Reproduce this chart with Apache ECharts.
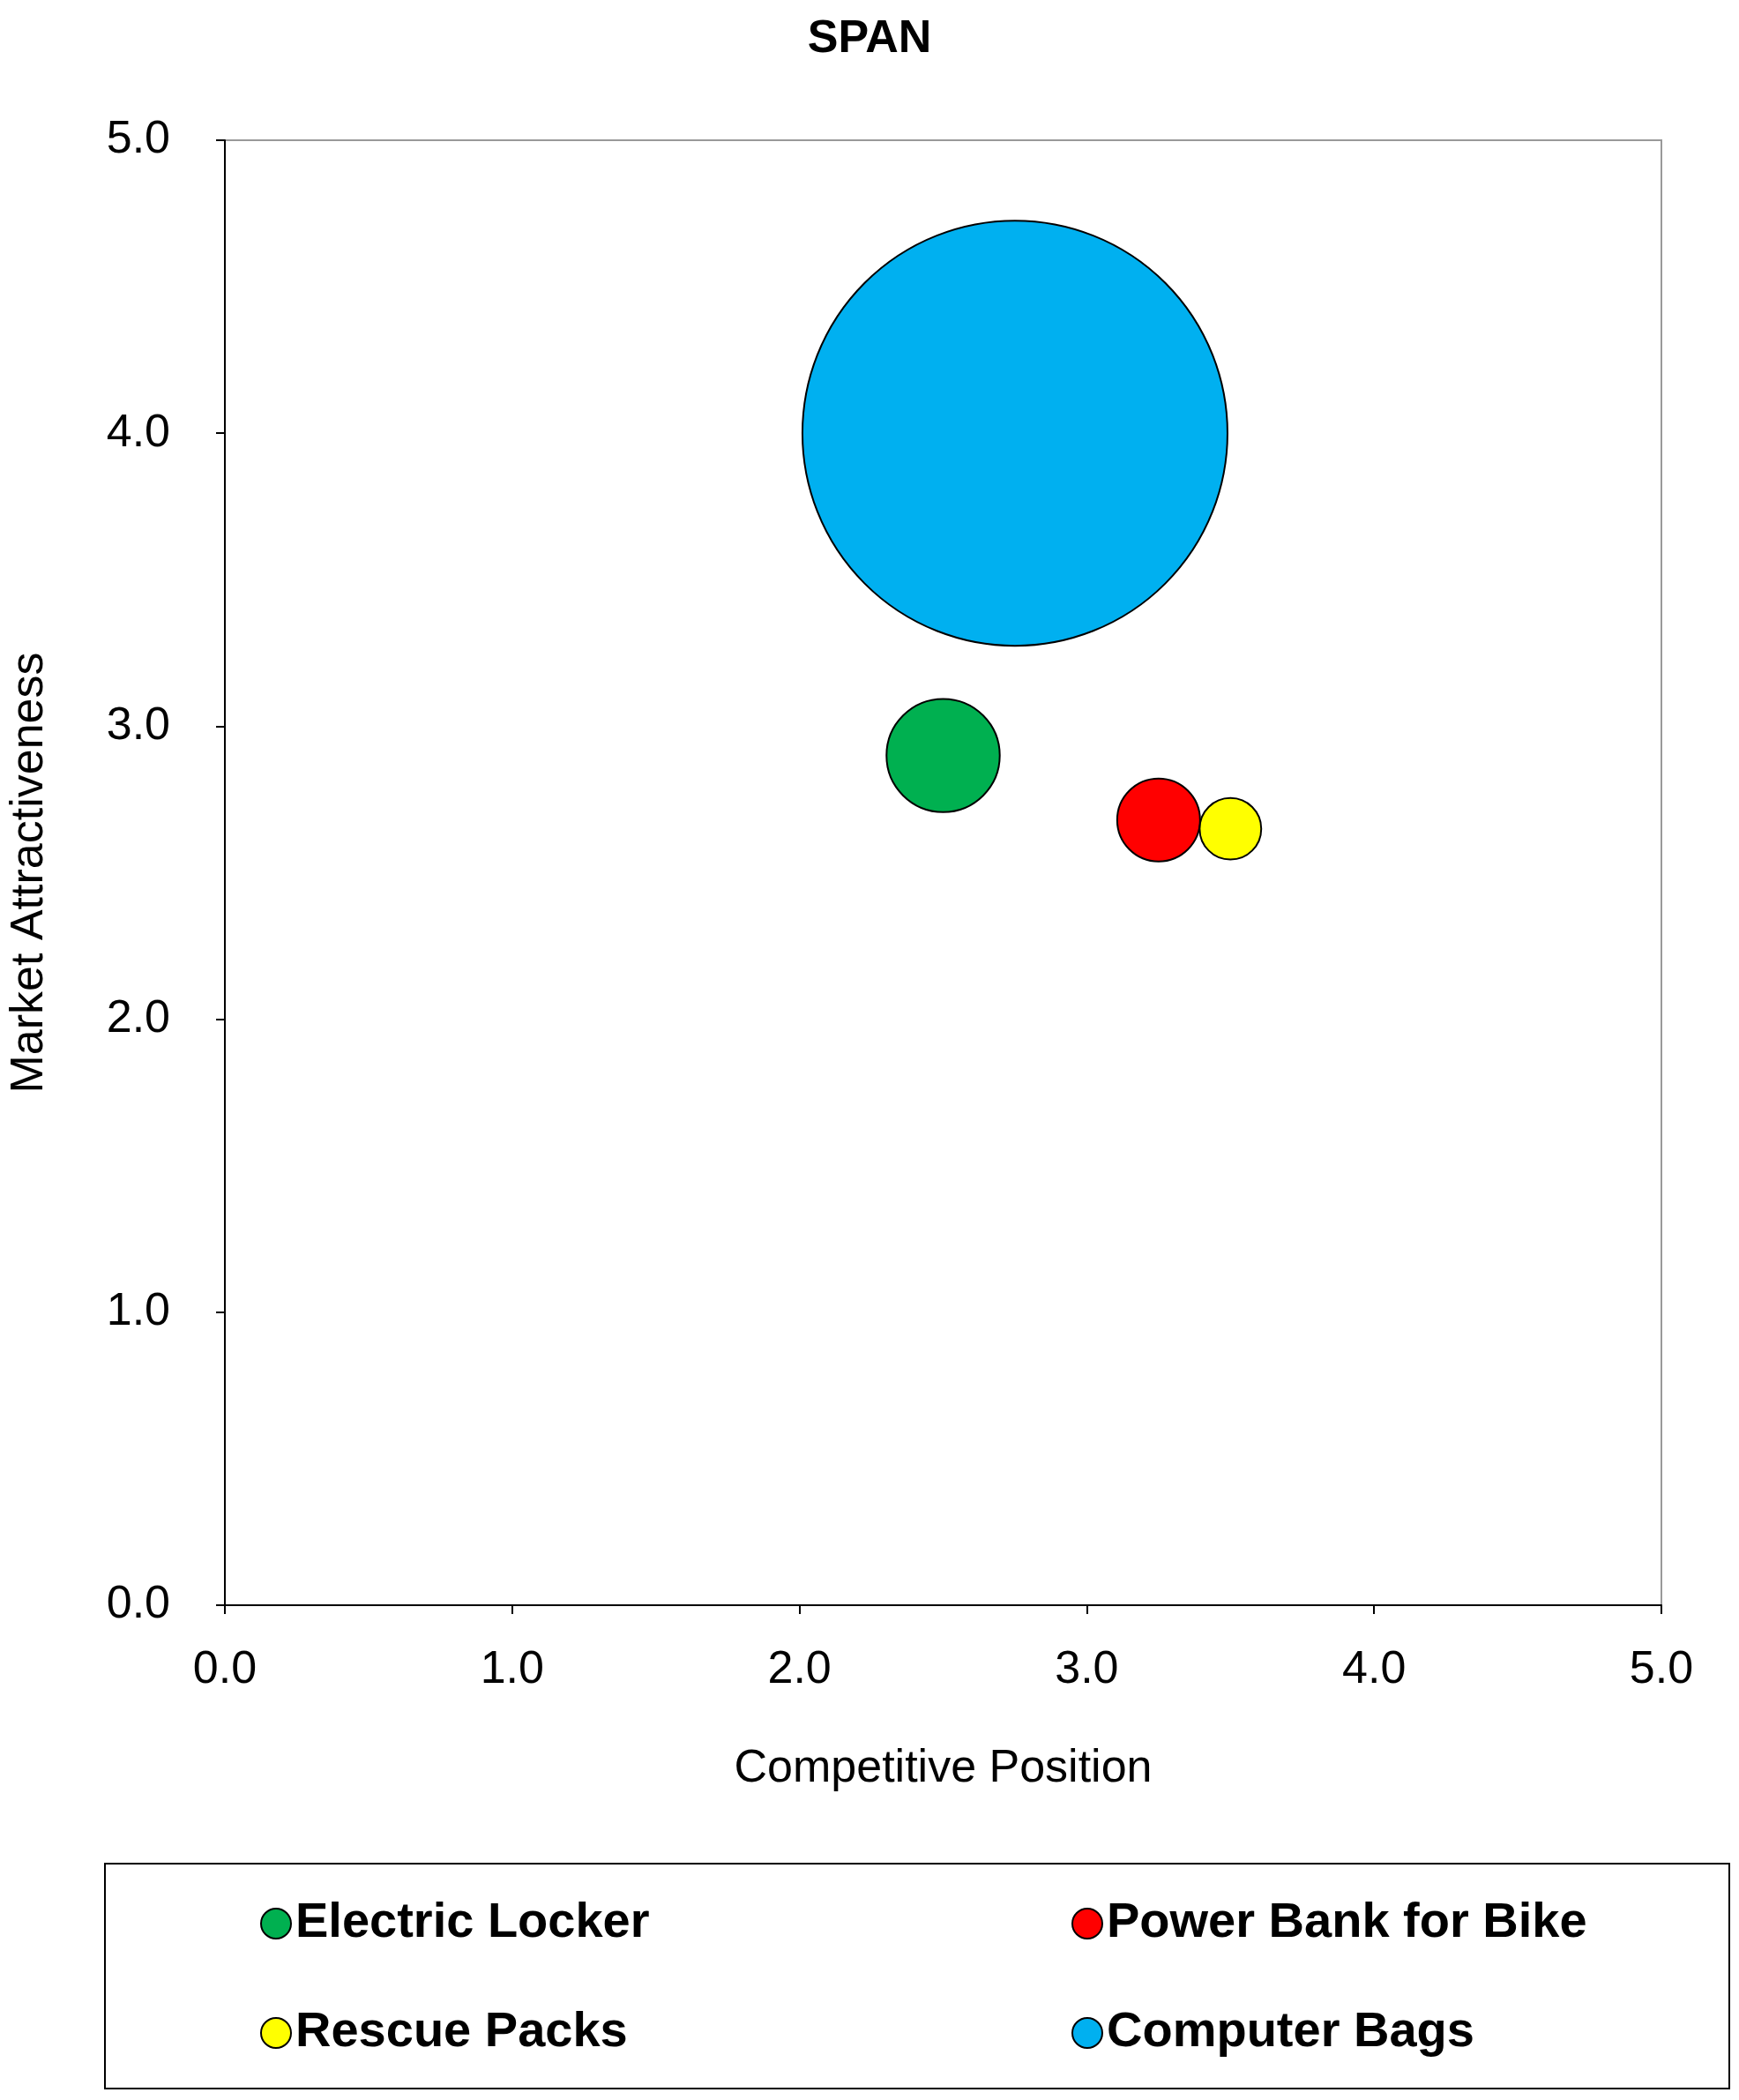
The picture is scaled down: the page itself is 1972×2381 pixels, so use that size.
<!DOCTYPE html>
<html><head><meta charset="utf-8">
<script src="https://cdn.jsdelivr.net/npm/echarts@6/dist/echarts.min.js"></script>
<style>html,body{margin:0;padding:0;background:#fff}#c{width:1972px;height:2381px}</style>
</head><body><div id="c"></div>
<script>
const names = ['Electric Locker','Power Bank for Bike','Rescue Packs','Computer Bags'];
const xVals = [2.5, 3.25, 3.5, 2.75];
const yVals = [2.9, 2.68, 2.65, 4.0];
const sizes = [7.1, 3.8, 2.1, 100];
const colors = ['#00b050','#ff0000','#ffff00','#00b0f0'];
const ticks = [0,1,2,3,4,5];

const chart = echarts.init(document.getElementById('c'));
const series = names.map((n,i)=>({
  name:n, type:'scatter',
  data:[[xVals[i], yVals[i], sizes[i]]],
  symbolSize: d => 482*Math.sqrt(d[2]/100),
  itemStyle:{color:colors[i], borderColor:'#000', borderWidth:2, opacity:1},
  z: 10 - (sizes[i] > 50 ? 5 : 0)
}));
const legendCommon = {orient:'vertical', itemGap:68, icon:'circle', itemWidth:34, itemHeight:34,
  textStyle:{fontSize:56, fontWeight:'bold', fontFamily:'Liberation Sans, Arial', color:'#000'}};
chart.setOption({
  animation:false,
  title:{text:'SPAN', left:'center', top:14, textStyle:{fontSize:52, fontWeight:'bold', fontFamily:'Liberation Sans, Arial', color:'#000'}},
  grid:{left:250, right:88, top:159, bottom:561, show:true, borderColor:'#999', borderWidth:2},
  xAxis:{type:'value', min:0, max:5, interval:1, name:'Competitive Position', nameLocation:'middle', nameGap:160,
    nameTextStyle:{fontSize:52, fontFamily:'Liberation Sans, Arial', color:'#000'},
    axisLine:{show:true, lineStyle:{color:'#000', width:2}}, axisTick:{show:true, length:10, lineStyle:{color:'#000',width:2}},
    splitLine:{show:false}, axisLabel:{fontSize:52, margin:48, color:'#000', fontFamily:'Liberation Sans, Arial', formatter:v=>v.toFixed(1)}},
  yAxis:{type:'value', min:0, max:5, interval:1, name:'Market Attractiveness', nameLocation:'middle', nameGap:195,
    nameTextStyle:{fontSize:52, fontFamily:'Liberation Sans, Arial', color:'#000'},
    axisLine:{show:true, lineStyle:{color:'#000', width:2}}, axisTick:{show:true, length:10, lineStyle:{color:'#000',width:2}},
    splitLine:{show:false}, axisLabel:{fontSize:52, margin:62, color:'#000', fontFamily:'Liberation Sans, Arial', formatter:v=>v.toFixed(1)}},
  legend:[
    Object.assign({data:[names[0],names[2]], left:290, top:2148}, legendCommon),
    Object.assign({data:[names[1],names[3]], left:1210, top:2148}, legendCommon)
  ],
  graphic:[{type:'rect', shape:{x:119, y:2113, width:1842, height:255}, style:{fill:'none', stroke:'#000', lineWidth:2}}],
  series
});
</script></body></html>
